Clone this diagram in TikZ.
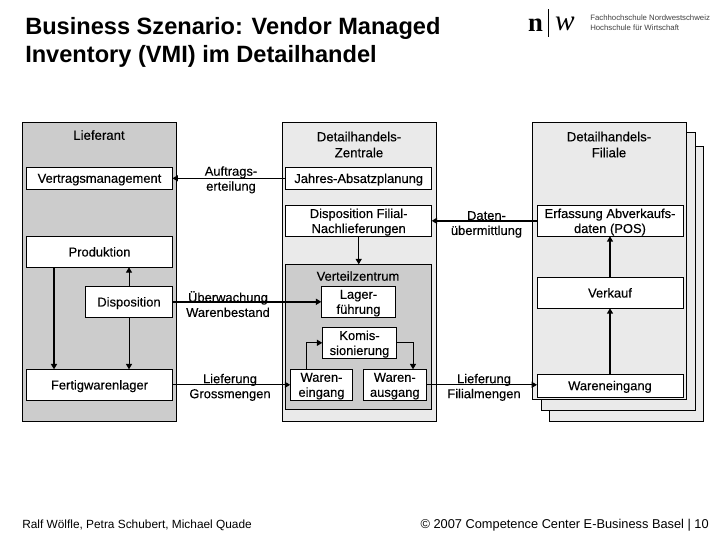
\documentclass[tikz,border=0pt]{standalone}
\usepackage{fontspec}
\setmainfont{Liberation Sans}
\newfontfamily\serifw{Liberation Serif}
\newfontfamily\halbfett[FakeBold=0.25]{Liberation Sans}
\usepackage{xcolor}
\usetikzlibrary{arrows.meta}
\definecolor{grauhell}{RGB}{234,234,234}
\definecolor{graumittel}{RGB}{204,204,204}
\tikzset{
  panel/.style={rectangle,draw=black,line width=0.75pt,inner sep=0pt,outer sep=0pt,
    anchor=north west,minimum width=115.5pt},
  kasten/.style={rectangle,draw=black,fill=white,line width=0.75pt,inner sep=0pt,
    outer sep=0pt,align=center,text depth=0pt,
    font=\fontsize{9.7}{11.25}\selectfont\halbfett},
  breit/.style={kasten,minimum width=109.5pt,minimum height=23.25pt},
  flach/.style={kasten,minimum width=109.5pt,minimum height=16.5pt},
  schmal/.style={kasten,minimum width=55.8pt,minimum height=23.25pt},
  klein/.style={kasten,minimum width=47pt,minimum height=23.25pt},
  label/.style={inner sep=0pt,align=center,text depth=0pt,
    font=\fontsize{9.7}{11.25}\selectfont\halbfett},
  kopf/.style={inner sep=0pt,align=center,text depth=0pt,
    font=\fontsize{9.9}{12}\selectfont\halbfett},
  titel/.style={inner sep=0pt,anchor=west,font=\fontsize{17.7}{21}\selectfont\bfseries},
  pfeil/.style={-{Triangle[length=4pt,width=4.5pt]},line width=0.75pt},
  dick/.style={-{Triangle[length=4pt,width=4.5pt]},line width=1.5pt}
}
\begin{document}
\begin{tikzpicture}[x=0.75pt,y=-0.75pt]
  \useasboundingbox (0,0) rectangle (720,540);
  % title and logo
  \node[titel] (titela) at (25,28) {Business Szenario: Vendor Managed};
  \node[titel] (titelb) at (25,56) {Inventory (VMI) im Detailhandel};
  \node[inner sep=0pt,font=\fontsize{20}{20}\selectfont\bfseries\serifw] (logon) at (535.5,25) {n};
  \node[inner sep=0pt,font=\fontsize{22}{22}\selectfont\itshape\serifw] (logow) at (565,24) {w};
  \coordinate (balkena) at (548.5,9);
  \coordinate (balkenb) at (548.5,37);
  \draw[line width=0.6pt] (balkena) -- (balkenb);
  \node[inner sep=0pt,anchor=west,align=left,text=black!75,
    font=\fontsize{5.85}{7.5}\selectfont] (logotext) at (590,23)
    {Fachhochschule Nordwestschweiz\\Hochschule für Wirtschaft};
  % panels
  \node[panel,fill=grauhell,minimum height=206.5pt] (filialec) at (549.3,146) {};
  \node[panel,fill=grauhell,minimum height=208.5pt] (filialeb) at (541.7,132.3) {};
  \node[panel,fill=grauhell,minimum height=208pt] (filiale) at (532.3,122.3) {};
  \node[panel,fill=graumittel,minimum height=224.25pt] (lieferant) at (22.3,122.3) {};
  \node[panel,fill=grauhell,minimum height=224.25pt] (zentrale) at (282.3,122.3) {};
  \node[panel,fill=graumittel,minimum width=109.5pt,minimum height=108.75pt] (verteil) at (285.7,264.3) {};
  \node[kopf] (lieferantlab) at (99,135) {Lieferant};
  \node[kopf] (zentralelab) at (359,144.5) {Detailhandels-\\Zentrale};
  \node[kopf] (filialelab) at (609,144.5) {Detailhandels-\\Filiale};
  \node[label] (verteillab) at (358,276) {Verteilzentrum};
  % Lieferant
  \node[flach] (vertrag) at (99.5,178.3) {Vertragsmanagement};
  \node[breit] (produktion) at (99.5,251.8) {Produktion};
  \node[kasten,minimum width=65.5pt,minimum height=23.25pt] (dispo) at (129,301.8) {Disposition};
  \node[breit] (fertig) at (99.5,384.8) {Fertigwarenlager};
  % Zentrale
  \node[flach] (jahres) at (358.7,178.3) {Jahres-Absatzplanung};
  \node[breit] (filialdispo) at (358.7,220.8) {Disposition Filial-\\Nachlieferungen};
  \node[schmal] (lager) at (358.5,301.8) {Lager-\\führung};
  \node[schmal] (komis) at (359.5,342.8) {Komis-\\sionierung};
  \node[klein] (eingang) at (321.5,384.8) {Waren-\\eingang};
  \node[klein] (ausgang) at (394.8,384.8) {Waren-\\ausgang};
  % Filiale
  \node[breit] (erfassung) at (610,220.8) {Erfassung Abverkaufs-\\daten (POS)};
  \node[breit] (verkauf) at (610,292.8) {Verkauf};
  \node[kasten,minimum width=109.5pt,minimum height=17.25pt] (filialeingang) at (610,385.5) {Wareneingang};
  % connector labels
  \node[label] (auftrag) at (231,178.5) {Auftrags-\\erteilung};
  \node[label] (daten) at (486.5,223) {Daten-\\übermittlung};
  \node[label] (ueberw) at (228,304) {Überwachung\\Warenbestand};
  \node[label] (grossm) at (230,386) {Lieferung\\Grossmengen};
  \node[label] (filialm) at (484,386) {Lieferung\\Filialmengen};
  % connectors
  \draw[pfeil] (jahres) -- (vertrag);
  \draw[dick] (54,0 |- produktion.south) -- (54,0 |- fertig.north);
  \draw[pfeil] (dispo) -- (produktion.south -| dispo);
  \draw[pfeil] (dispo) -- (fertig.north -| dispo);
  \draw[dick] (dispo) -- (lager);
  \draw[pfeil] (fertig) -- (eingang);
  \draw[pfeil] (filialdispo) -- (verteil.north -| filialdispo);
  \draw[dick] (erfassung) -- (filialdispo);
  \draw[pfeil] (306,0 |- eingang.north) |- (komis);
  \draw[pfeil] (komis) -| (413,0 |- ausgang.north);
  \draw[pfeil] (ausgang) -- (ausgang -| filialeingang.west);
  \draw[dick] (verkauf) -- (erfassung);
  \draw[dick] (filialeingang) -- (verkauf);
  % footer
  \node[inner sep=0pt,anchor=west,font=\fontsize{8.9}{11}\selectfont] (autoren) at (22,525)
    {Ralf Wölfle, Petra Schubert, Michael Quade};
  \node[inner sep=0pt,anchor=east,font=\fontsize{9.6}{11}\selectfont] (copyright) at (709,525)
    {© 2007 Competence Center E-Business Basel | 10};
\end{tikzpicture}
\end{document}
